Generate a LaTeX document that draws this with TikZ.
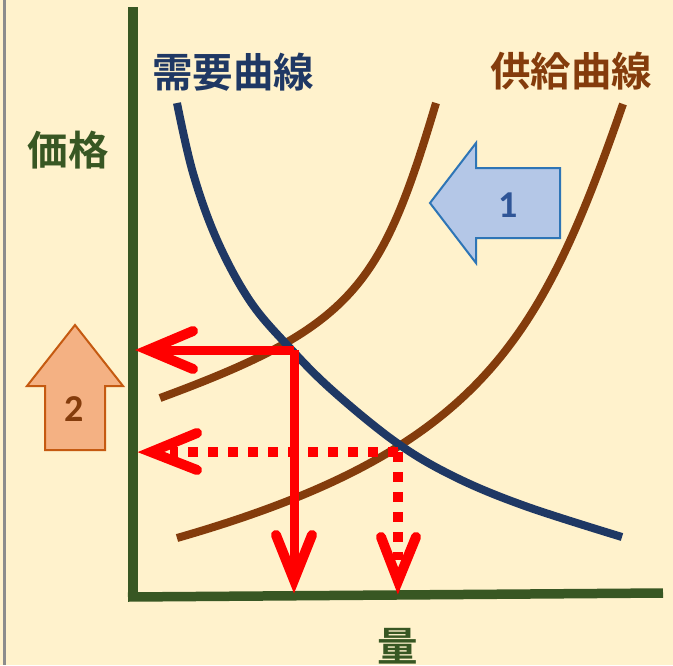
\documentclass[tikz,border=0pt]{standalone}
\usepackage{fontspec}
\newfontfamily\jpb{Noto Sans CJK JP Bold}
\newfontfamily\numf{Carlito}
\definecolor{bgc}{HTML}{FFF2CC}
\definecolor{axisg}{HTML}{385723}
\definecolor{demb}{HTML}{1F3864}
\definecolor{supb}{HTML}{843C0C}
\definecolor{redc}{HTML}{FF0000}
\definecolor{ar1fill}{HTML}{B4C7E7}
\definecolor{ar1line}{HTML}{2E75B6}
\definecolor{ar1text}{HTML}{2F5597}
\definecolor{ar2fill}{HTML}{F4B183}
\definecolor{ar2line}{HTML}{C55A11}
\tikzset{
  axisline/.style={draw=axisg, line width=9.5pt},
  demandcurve/.style={draw=demb, line width=8pt},
  supplycurve/.style={draw=supb, line width=8pt},
  redsolid/.style={draw=redc, line width=9pt},
  reddotted/.style={draw=redc, line width=9.5pt, dash pattern=on 10pt off 10pt},
  redhead/.style={draw=redc, line width=10pt, line cap=round, line join=miter},
  jplabel/.style={font=\jpb\fontsize{40.5}{40.5}\selectfont, inner sep=0pt},
  numlabel/.style={font=\numf\bfseries\fontsize{38}{38}\selectfont, inner sep=0pt},
  blockone/.style={fill=ar1fill, draw=ar1line, line width=2pt, line join=miter},
  blocktwo/.style={fill=ar2fill, draw=ar2line, line width=2pt, line join=miter},
}
\begin{document}
\begin{tikzpicture}[x=1pt,y=-1pt]
\useasboundingbox (0,0) rectangle (673,665);
\fill[bgc] (0,0) rectangle (673,665);
% left grey border
\draw[draw=gray!90, line width=3.5pt] (4.5,0) -- (4.5,665);

% axes
\coordinate (ytop) at (133,7);
\coordinate (ybot) at (133,601);
\coordinate (xl) at (128,597);
\coordinate (xr) at (663,593);
\draw[axisline] (ytop) -- (ybot);
\draw[axisline] (xl) -- (xr);

% supply curves
\coordinate (s1a) at (160,398);
\coordinate (s1b) at (436,103);
\draw[supplycurve] (s1a) .. controls (353.6,326.6) and (381,287.7) .. (s1b);
\coordinate (s2a) at (177,538);
\coordinate (s2b) at (623,104);
\draw[supplycurve] (s2a) .. controls (480.8,450.8) and (540.6,340.6) .. (s2b);
% demand curve
\draw[demandcurve] plot[smooth, tension=0.6] coordinates {(177,103) (193,173) (217,240) (250,301) (289,347) (333,391) (397,443) (455,477) (525,506) (622,537)};

% equilibrium points
\coordinate (E1) at (294,350);
\coordinate (E2) at (398,452);
\coordinate (t1) at (148,350);
\coordinate (t2) at (294,580);
\coordinate (t3) at (151,452);
\coordinate (t4) at (398,581);

% red solid arrows
\draw[redsolid] (E1) -- (t1);
\draw[redhead] (193,331) -- (t1) -- (193,369);
\draw[redsolid] (E1) -- (t2);
\draw[redhead] (276,535) -- (t2) -- (312,535);

% red dotted arrows
\draw[reddotted] (E2) -- (170,452);
\draw[redhead] (197,433) -- (t3) -- (197,470);
\draw[reddotted] (E2) -- (398,560);
\draw[redhead] (381,537) -- (t4) -- (416,537);

% block arrow 1
\draw[blockone] (430,203) -- (476,143) -- (476,168) -- (560,168) -- (560,238) -- (476,238) -- (476,263) -- cycle;
\node[numlabel, text=ar1text] (n1) at (508,205) {1};

% block arrow 2
\draw[blocktwo] (75,325) -- (123,386) -- (105,386) -- (105,450) -- (45,450) -- (45,386) -- (27,386) -- cycle;
\node[numlabel, text=supb] (n2) at (74,409) {2};

% labels
\node[jplabel, text=demb] (dl) at (233,72) {需要曲線};
\node[jplabel, text=supb] (sl) at (571,71) {供給曲線};
\node[jplabel, text=axisg] (pl) at (68,150) {価格};
\node[jplabel, text=axisg] (ql) at (398,646) {量};
\end{tikzpicture}
\end{document}
